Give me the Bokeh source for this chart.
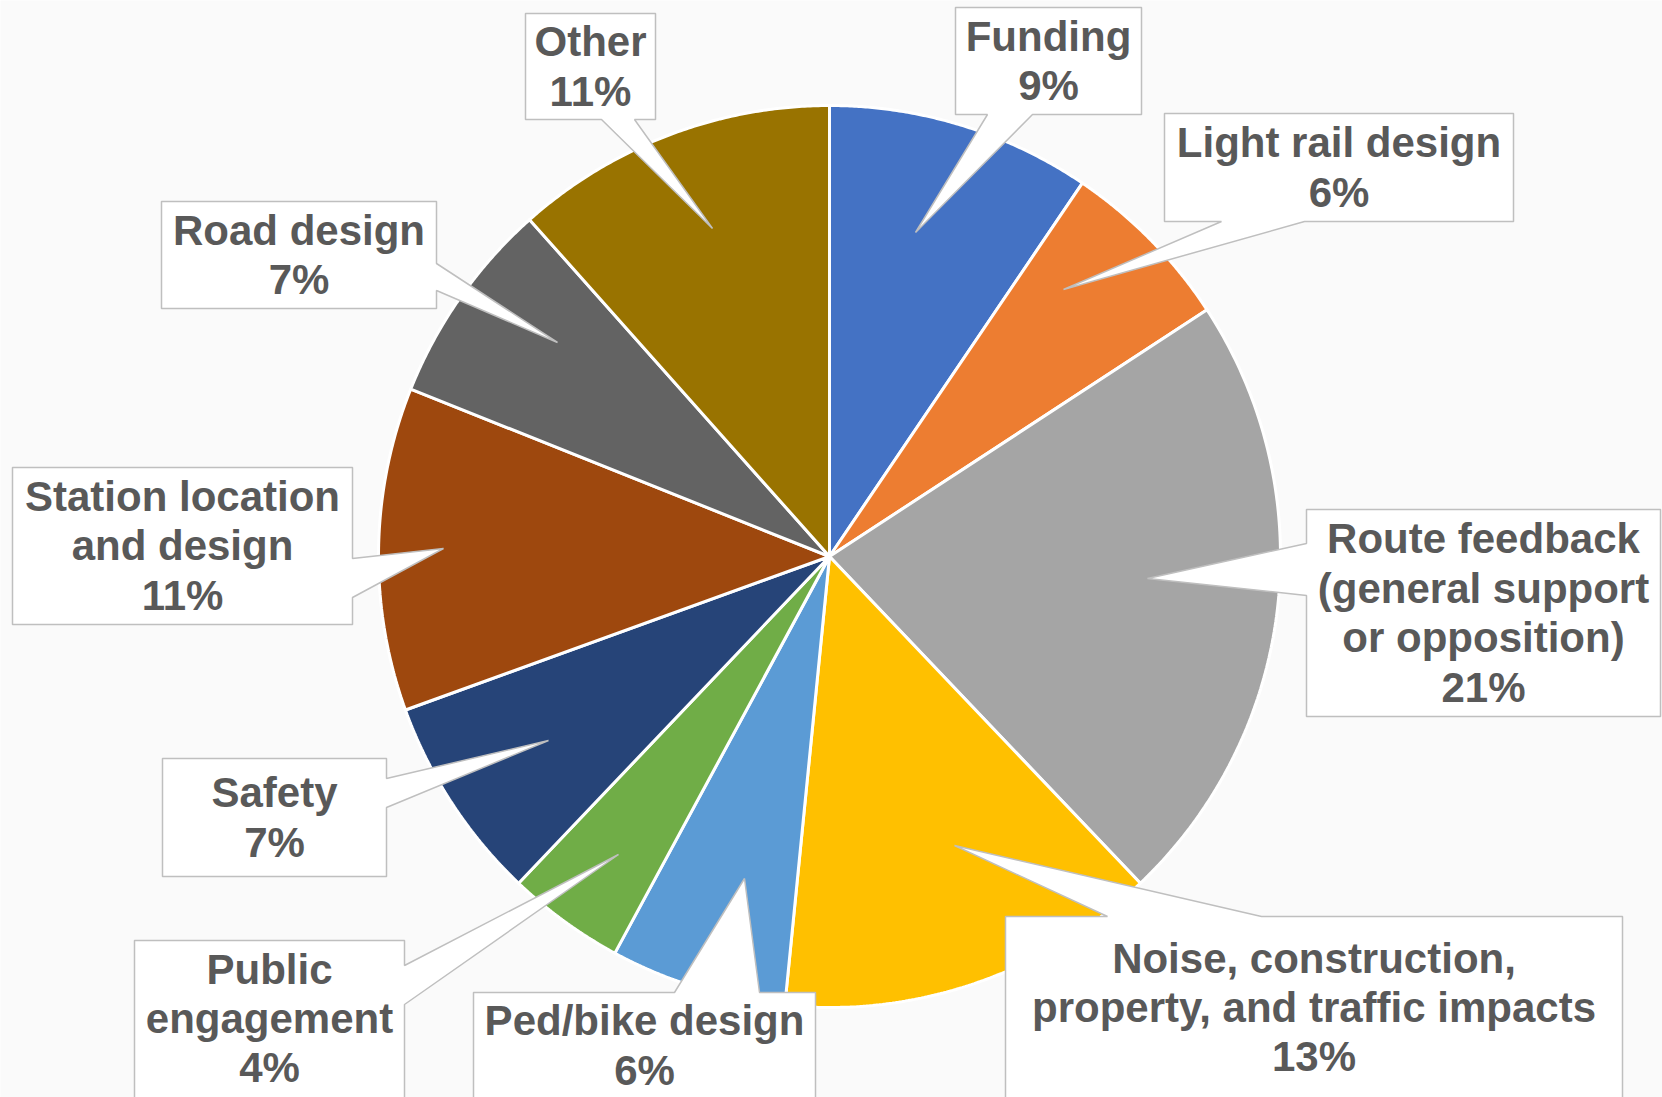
import numpy as np
from bokeh.plotting import figure
from bokeh.models import Range1d, ColumnDataSource
from bokeh.core.properties import value
from bokeh.embed import file_html
from bokeh.resources import INLINE

# ---------------- data ----------------
categories = ["Funding", "Light rail design",
              "Route feedback\n(general support\nor opposition)",
              "Noise, construction,\nproperty, and traffic impacts",
              "Ped/bike design", "Public\nengagement", "Safety",
              "Station location\nand design", "Road design", "Other"]
values = [9, 6, 21, 13, 6, 4, 7, 11, 7, 11]
pct_labels = ["9%", "6%", "21%", "13%", "6%", "4%", "7%", "11%", "7%", "11%"]
colors = ["#4472C4", "#ED7D31", "#A5A5A5", "#FFC000", "#5B9BD5",
          "#70AD47", "#264478", "#9E480E", "#636363", "#997300"]

# ---------------- layout (page pixel coordinates) ----------------
CX, CY, R = 829, 556, 451
# box: x0, x1, y0, y1 ; pointer: edge, base1, base2, tip ; ty: text block centre
callouts = [
    dict(box=(955, 1141, 7, 114), edge="bottom", b=(987, 1032), tip=(915, 232)),
    dict(box=(1164, 1513, 113, 221), edge="bottom", b=(1221, 1304), tip=(1063, 289)),
    dict(box=(1306, 1660, 509, 716), edge="left", b=(543, 595), tip=(1147, 578)),
    dict(box=(1005, 1622, 916, 1104), edge="top", b=(1107, 1261), tip=(954, 845), ty=1007),
    dict(box=(473, 815, 992, 1104), edge="top", b=(674, 759), tip=(744, 878), ty=1045),
    dict(box=(134, 404, 940, 1104), edge="right", b=(965, 1004), tip=(618, 854), ty=1018),
    dict(box=(162, 386, 758, 876), edge="right", b=(778, 807), tip=(548, 740)),
    dict(box=(12, 352, 467, 624), edge="right", b=(558, 597), tip=(443, 548)),
    dict(box=(161, 436, 201, 308), edge="right", b=(263, 290), tip=(557, 342)),
    dict(box=(525, 655, 13, 119), edge="bottom", b=(601, 634), tip=(712, 228)),
]

W, H = 1662, 1097
p = figure(width=W, height=H, output_backend="svg", toolbar_location=None,
           x_range=Range1d(0, W), y_range=Range1d(H, 0),
           x_axis_type=None, y_axis_type=None, min_border=0,
           background_fill_color="#FAFAFA", border_fill_color="#FAFAFA",
           outline_line_color=None, tools="")
p.grid.visible = False

# ---------------- pie slices ----------------
vals = np.array(values, dtype=float)
frac = vals / vals.sum()
ends = np.cumsum(frac) * 360.0
starts = ends - frac * 360.0
xs, ys = [], []
for a0, a1 in zip(starts, ends):
    th = np.radians(np.linspace(a0, a1, 120))
    xs.append(np.concatenate([[CX], CX + R * np.sin(th)]).tolist())
    ys.append(np.concatenate([[CY], CY - R * np.cos(th)]).tolist())
p.patches(xs, ys, fill_color=colors, line_color="white", line_width=3)

# ---------------- callouts ----------------
cxs, cys, tx, ty, txt = [], [], [], [], []
for c, cat, pl in zip(callouts, categories, pct_labels):
    x0, x1, y0, y1 = c["box"]
    b1, b2 = c["b"]
    tpx, tpy = c["tip"]
    e = c["edge"]
    if e == "bottom":
        pts = [(x0, y0), (x1, y0), (x1, y1), (b2, y1), (tpx, tpy), (b1, y1), (x0, y1)]
    elif e == "top":
        pts = [(x0, y0), (b1, y0), (tpx, tpy), (b2, y0), (x1, y0), (x1, y1), (x0, y1)]
    elif e == "right":
        pts = [(x0, y0), (x1, y0), (x1, b1), (tpx, tpy), (x1, b2), (x1, y1), (x0, y1)]
    else:
        pts = [(x0, y0), (x1, y0), (x1, y1), (x0, y1), (x0, b2), (tpx, tpy), (x0, b1)]
    cxs.append([q[0] for q in pts])
    cys.append([q[1] for q in pts])
    tx.append((x0 + x1) / 2)
    ty.append(c.get("ty", (y0 + y1) / 2))
    txt.append(cat + "\n" + pl)

p.patches(cxs, cys, fill_color="white", line_color="#BFBFBF", line_width=1.5)

src = ColumnDataSource(dict(x=tx, y=ty, t=txt))
p.text(x="x", y="y", text="t", source=src, text_align="center",
       text_baseline="middle", text_font=value("Liberation Sans"),
       text_font_style="bold", text_font_size="42px", text_color="#595959",
       text_line_height=1.05)

open("out.html", "w").write(file_html(p, INLINE))
